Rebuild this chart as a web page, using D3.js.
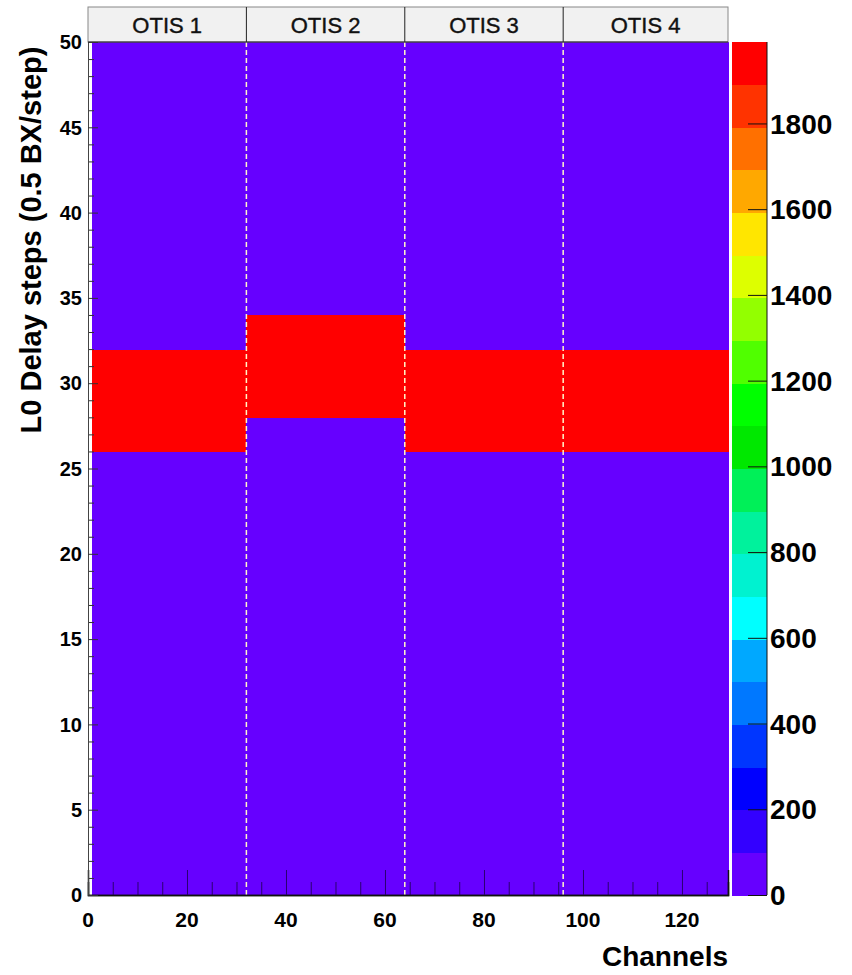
<!DOCTYPE html>
<html lang="en">
<head>
    <meta charset="UTF-8">
    <title>L0 Delay scan</title>
    <script src="https://d3js.org/d3.v7.min.js"></script>
    <style>
        body { margin: 0; background: #fff; }
        text { font-family: "Liberation Sans", Arial, sans-serif; }
    </style>
</head>
<body>
<svg id="chart" width="852" height="975"></svg>
<script>
    // data
    const otisNames = ["OTIS 1", "OTIS 2", "OTIS 3", "OTIS 4"];
    const otisEdges = [0.8, 32, 64, 96, 129.3];      // channel edges of each OTIS block
    const bandLow = [26, 28, 26, 26];                // first delay step of the hit band
    const bandHigh = [32, 34, 32, 32];               // last delay step of the hit band
    const peakCounts = [1990, 1990, 1990, 1990];
    const baseCounts = [0, 0, 0, 0];
    const xTickValues = [0, 20, 40, 60, 80, 100, 120];
    const yTickValues = [0, 5, 10, 15, 20, 25, 30, 35, 40, 45, 50];
    const zTickValues = [0, 200, 400, 600, 800, 1000, 1200, 1400, 1600, 1800];
    const zMax = 1990;
    const palette = ["#6600ff", "#3300ff", "#0000ff", "#0036ff", "#0078ff", "#00a8ff",
        "#00ffff", "#00f2d0", "#00f29c", "#00f058", "#00e800", "#00ff00",
        "#50ff00", "#93ff00", "#ddff00", "#ffe600", "#ffa800", "#ff7000",
        "#ff3300", "#ff0000"];

    const svg = d3.select("#chart");
    const margin = { top: 42, right: 124, bottom: 80, left: 88 };
    const W = +svg.attr("width"), H = +svg.attr("height");

    const x = d3.scaleLinear().domain([0, otisEdges[4]]).range([margin.left, W - margin.right]);
    const y = d3.scaleLinear().domain([0, 50]).range([H - margin.bottom, margin.top]);
    const z = d3.scaleLinear().domain([0, zMax]).range([H - margin.bottom, margin.top]);
    const color = d3.scaleQuantize().domain([0, zMax]).range(palette);

    // build the cells: below band, band, above band for each OTIS
    const cells = [];
    otisNames.forEach((n, i) => {
        cells.push({ x0: otisEdges[i], x1: otisEdges[i + 1], y0: 0, y1: bandLow[i], v: baseCounts[i] });
        cells.push({ x0: otisEdges[i], x1: otisEdges[i + 1], y0: bandLow[i], y1: bandHigh[i], v: peakCounts[i] });
        cells.push({ x0: otisEdges[i], x1: otisEdges[i + 1], y0: bandHigh[i], y1: 50, v: baseCounts[i] });
    });

    svg.append("g").selectAll("rect")
        .data(cells)
        .enter().append("rect")
        .attr("x", d => x(d.x0))
        .attr("y", d => y(d.y1))
        .attr("width", d => x(d.x1) - x(d.x0) + 0.5)
        .attr("height", d => y(d.y0) - y(d.y1) + 0.5)
        .attr("fill", d => color(d.v))
        .attr("shape-rendering", "crispEdges");

    // dashed separators between OTIS chips
    svg.append("g").selectAll("line")
        .data(otisEdges.slice(1, 4))
        .enter().append("line")
        .attr("x1", d => x(d)).attr("x2", d => x(d))
        .attr("y1", y(50)).attr("y2", y(0))
        .attr("stroke", "#fff6c8")
        .attr("stroke-width", 1.5)
        .attr("stroke-dasharray", "5,3");

    // header boxes
    const head = svg.append("g");
    head.append("rect")
        .attr("x", x(0)).attr("y", 7)
        .attr("width", x(otisEdges[4]) - x(0)).attr("height", y(50) - 7)
        .attr("fill", "#f1f1f1").attr("stroke", "#888").attr("stroke-width", 1);
    head.selectAll("line")
        .data(otisEdges.slice(1, 4))
        .enter().append("line")
        .attr("x1", d => x(d)).attr("x2", d => x(d))
        .attr("y1", 7).attr("y2", y(50))
        .attr("stroke", "#222").attr("stroke-width", 1);
    head.append("line")
        .attr("x1", x(0)).attr("x2", x(otisEdges[4]))
        .attr("y1", y(50)).attr("y2", y(50))
        .attr("stroke", "#222");
    head.selectAll("text")
        .data(otisNames)
        .enter().append("text")
        .attr("x", (d, i) => (x(i === 0 ? 0 : otisEdges[i]) + x(otisEdges[i + 1])) / 2)
        .attr("y", 33)
        .attr("text-anchor", "middle")
        .attr("fill", "#111")
        .attr("stroke", "#111").attr("stroke-width", 0.4)
        .style("font-size", "22px")
        .text(d => d);

    // x axis: major ticks every 20, minor every 5, pointing up
    const xMinor = d3.range(0, 129, 5).filter(v => v % 20 !== 0);
    const xAxis = svg.append("g").attr("transform", `translate(0,${y(0)})`);
    xAxis.call(d3.axisBottom(x).tickValues(xMinor).tickSize(-13).tickFormat(""));
    xAxis.call(g => g.append("g").call(d3.axisBottom(x).tickValues(xTickValues).tickSize(-25).tickFormat("")));
    xAxis.selectAll(".domain").attr("stroke", "#111").attr("stroke-width", 1.5);
    xAxis.selectAll(".tick line").attr("stroke", "#2a0070");
    svg.append("g").selectAll("text")
        .data(xTickValues)
        .enter().append("text")
        .attr("x", d => x(d))
        .attr("y", 927)
        .attr("text-anchor", "middle")
        .style("font-size", "21px").style("font-weight", "bold")
        .text(d => d);

    // y axis: major every 5, minor every 1, pointing right
    const yMinor = d3.range(0, 51, 1).filter(v => v % 5 !== 0);
    const yAxis = svg.append("g").attr("transform", `translate(${x(0)},0)`);
    yAxis.call(d3.axisLeft(y).tickValues(yMinor).tickSize(-6).tickFormat(""));
    yAxis.call(g => g.append("g").call(d3.axisLeft(y).tickValues(yTickValues).tickSize(-10).tickFormat("")));
    yAxis.selectAll(".domain").attr("stroke", "#444").attr("stroke-width", 1);
    yAxis.selectAll(".tick line").attr("stroke", "#333");
    svg.append("g").selectAll("text")
        .data(yTickValues)
        .enter().append("text")
        .attr("x", 82)
        .attr("y", d => y(d))
        .attr("dy", "0.36em")
        .attr("text-anchor", "end")
        .style("font-size", "20px").style("font-weight", "bold")
        .text(d => d);

    // axis titles
    svg.append("text")
        .attr("x", x(otisEdges[4]))
        .attr("y", 966)
        .attr("text-anchor", "end")
        .style("font-size", "28px").style("font-weight", "bold")
        .text("Channels");

    svg.append("text")
        .attr("transform", "translate(41,240) rotate(-90)")
        .attr("text-anchor", "middle")
        .style("font-size", "29px").style("font-weight", "bold")
        .text("L0 Delay steps (0.5 BX/step)");

    // colour bar
    const barX = 732, barW = 35;
    const step = zMax / palette.length;
    svg.append("g").selectAll("rect")
        .data(palette)
        .enter().append("rect")
        .attr("x", barX)
        .attr("y", (d, i) => z((i + 1) * step))
        .attr("width", barW)
        .attr("height", (d, i) => z(i * step) - z((i + 1) * step) + 0.5)
        .attr("fill", d => d)
        .attr("shape-rendering", "crispEdges");
    svg.append("line")
        .attr("x1", barX + barW).attr("x2", barX + barW)
        .attr("y1", z(zMax)).attr("y2", z(0))
        .attr("stroke", "#111");
    const zAxis = svg.append("g").attr("transform", `translate(${barX + barW},0)`);
    zAxis.call(d3.axisLeft(z).tickValues(zTickValues).tickSize(19).tickFormat(""));
    zAxis.select(".domain").remove();
    zAxis.selectAll(".tick line").attr("stroke", "#111");
    svg.append("g").selectAll("text")
        .data(zTickValues)
        .enter().append("text")
        .attr("x", 770)
        .attr("y", d => z(d))
        .attr("dy", "0.36em")
        .style("font-size", "28px").style("font-weight", "bold")
        .text(d => d);
</script>
</body>
</html>
